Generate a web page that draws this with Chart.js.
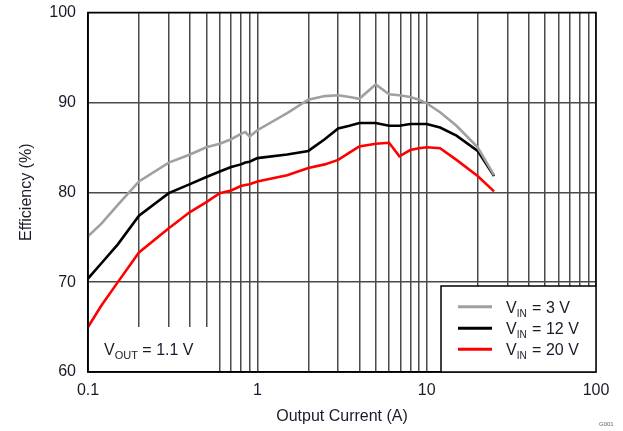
<!DOCTYPE html>
<html>
<head>
<meta charset="utf-8">
<script src="https://cdn.jsdelivr.net/npm/chart.js@4/dist/chart.umd.min.js"></script>
<style>
  html, body { margin: 0; padding: 0; background: #fff; }
  #wrap { width: 623px; height: 431px; }
</style>
</head>
<body>
<div id="wrap"><canvas id="c" width="623" height="431"></canvas></div>
<script>
// ---- data ----
const currentA = [0.1, 0.12, 0.15, 0.2, 0.3, 0.4, 0.5, 0.6, 0.7, 0.8, 0.85, 0.9, 1, 1.5, 2, 2.5, 3, 3.5, 4, 5, 6, 6.9, 8, 9, 10, 12, 15, 20, 25];
const eff3V  = [75.1, 76.5, 78.6, 81.2, 83.3, 84.2, 85.0, 85.4, 85.9, 86.5, 86.7, 86.2, 86.9, 88.8, 90.3, 90.7, 90.8, 90.6, 90.4, 92.0, 90.9, 90.8, 90.6, 90.3, 89.9, 88.9, 87.4, 85.0, 81.9];
const eff12V = [70.4, 72.1, 74.2, 77.4, 79.9, 80.9, 81.7, 82.3, 82.8, 83.1, 83.3, 83.4, 83.8, 84.2, 84.6, 85.9, 87.1, 87.4, 87.7, 87.7, 87.4, 87.4, 87.6, 87.6, 87.6, 87.2, 86.3, 84.6, 81.8];
const eff20V = [65.0, 67.4, 70.0, 73.3, 76.0, 77.8, 78.9, 79.9, 80.2, 80.7, 80.8, 80.9, 81.2, 81.9, 82.7, 83.1, 83.6, 84.4, 85.1, 85.4, 85.5, 84.0, 84.7, 84.9, 85.0, 84.9, 83.6, 81.8, 80.1];
const seriesNames = ['3 V', '12 V', '20 V'];
const xTickValues = [0.1,0.2,0.3,0.4,0.5,0.6,0.7,0.8,0.9,1,2,3,4,5,6,7,8,9,10,20,30,40,50,60,70,80,90,100];
const xTickLabels = ['0.1', '1', '10', '100'];
const yTickValues = [60, 70, 80, 90, 100];
const xTitle = 'Output Current (A)';
const yTitle = 'Efficiency (%)';
const voutText = ['V', 'OUT', ' = 1.1 V'];

const colors = ['#a0a0a0', '#000000', '#ff0000'];
const FONT = "'Liberation Sans', Arial, sans-serif";
const TXT = '#1a1a2a';

const mk = (arr) => currentA.map((x, i) => ({ x: x, y: arr[i] }));

const overlay = {
  id: 'overlay',
  beforeDatasetsDraw(chart) {
    const ctx = chart.ctx;
    const a = chart.chartArea;
    ctx.save();
    ctx.fillStyle = '#fff';
    // V_OUT label box (hides grid lines)
    ctx.fillRect(a.left + 1, 327, 212 - a.left, a.bottom - 327 - 1);
    // legend box
    ctx.fillRect(441, 286, a.right - 441, a.bottom - 286);
    ctx.restore();
  },
  afterDraw(chart) {
    const ctx = chart.ctx;
    const a = chart.chartArea;
    ctx.save();
    // plot frame
    ctx.strokeStyle = '#000';
    ctx.lineWidth = 1.5;
    ctx.strokeRect(a.left, a.top, a.right - a.left, a.bottom - a.top);
    // legend frame
    ctx.lineWidth = 1.5;
    ctx.beginPath();
    ctx.moveTo(441, a.bottom);
    ctx.lineTo(441, 286);
    ctx.lineTo(a.right, 286);
    ctx.stroke();
    // legend entries
    const rows = [306.7, 328.3, 349.3];
    rows.forEach((cy, i) => {
      ctx.strokeStyle = colors[i];
      ctx.lineWidth = 3;
      ctx.beginPath();
      ctx.moveTo(458, cy);
      ctx.lineTo(492, cy);
      ctx.stroke();
      ctx.fillStyle = TXT;
      ctx.textBaseline = 'alphabetic';
      ctx.textAlign = 'left';
      ctx.font = '16px ' + FONT;
      let x = 506;
      const base = cy + 6;
      ctx.fillText('V', x, base);
      x += ctx.measureText('V').width;
      ctx.font = '10px ' + FONT;
      ctx.fillText('IN', x, base + 4);
      x += ctx.measureText('IN').width + 1;
      ctx.font = '16px ' + FONT;
      ctx.fillText(' = ' + seriesNames[i], x, base);
    });
    // V_OUT label
    ctx.fillStyle = TXT;
    ctx.font = '16px ' + FONT;
    let x = 104;
    const b = 355;
    ctx.fillText(voutText[0], x, b);
    x += ctx.measureText(voutText[0]).width;
    ctx.font = '11px ' + FONT;
    ctx.fillText(voutText[1], x, b + 4);
    x += ctx.measureText(voutText[1]).width;
    ctx.font = '16px ' + FONT;
    ctx.fillText(voutText[2], x, b);
    // figure id
    ctx.font = '6px ' + FONT;
    ctx.fillStyle = '#666';
    ctx.fillText('G001', 599, 426);
    ctx.restore();
  }
};

new Chart(document.getElementById('c'), {
  type: 'line',
  data: {
    datasets: [
      { label: 'VIN = ' + seriesNames[0], data: mk(eff3V), borderColor: colors[0], borderWidth: 2.6, pointRadius: 0, tension: 0, fill: false },
      { label: 'VIN = ' + seriesNames[1], data: mk(eff12V), borderColor: colors[1], borderWidth: 2.6, pointRadius: 0, tension: 0, fill: false },
      { label: 'VIN = ' + seriesNames[2], data: mk(eff20V), borderColor: colors[2], borderWidth: 2.6, pointRadius: 0, tension: 0, fill: false }
    ]
  },
  options: {
    responsive: false,
    animation: false,
    events: [],
    layout: { padding: { left: 0, right: 27, top: 12.5, bottom: 0 } },
    plugins: { legend: { display: false }, tooltip: { enabled: false } },
    scales: {
      x: {
        type: 'logarithmic',
        min: 0.1, max: 100,
        afterBuildTicks: (s) => { s.ticks = xTickValues.map(v => ({ value: v })); },
        afterFit: (s) => { s.height = 59; s.paddingLeft = 0; s.paddingRight = 0; },
        ticks: {
          autoSkip: false, maxRotation: 0, padding: 9,
          color: TXT, font: { family: FONT, size: 16 },
          callback: (v) => { const l = xTickLabels.find(t => Math.abs(parseFloat(t) - v) < 1e-9); return l || ''; }
        },
        grid: { color: '#4a4a4a', lineWidth: 1.5, drawTicks: false },
        border: { color: '#000', width: 1.5 },
        title: { display: true, text: xTitle, color: TXT, font: { family: FONT, size: 16 }, padding: { top: 0, bottom: 5 } }
      },
      y: {
        min: 60, max: 100,
        afterBuildTicks: (s) => { s.ticks = yTickValues.map(v => ({ value: v })); },
        afterFit: (s) => { s.width = 88; s.paddingTop = 0; s.paddingBottom = 0; },
        ticks: { padding: 12, color: TXT, font: { family: FONT, size: 16 } },
        grid: { color: '#4a4a4a', lineWidth: 1.5, drawTicks: false },
        border: { color: '#000', width: 1.5 },
        title: { display: true, text: yTitle, color: TXT, font: { family: FONT, size: 16 }, padding: { top: 17, bottom: 0 } }
      }
    }
  },
  plugins: [overlay]
});
</script>
</body>
</html>
